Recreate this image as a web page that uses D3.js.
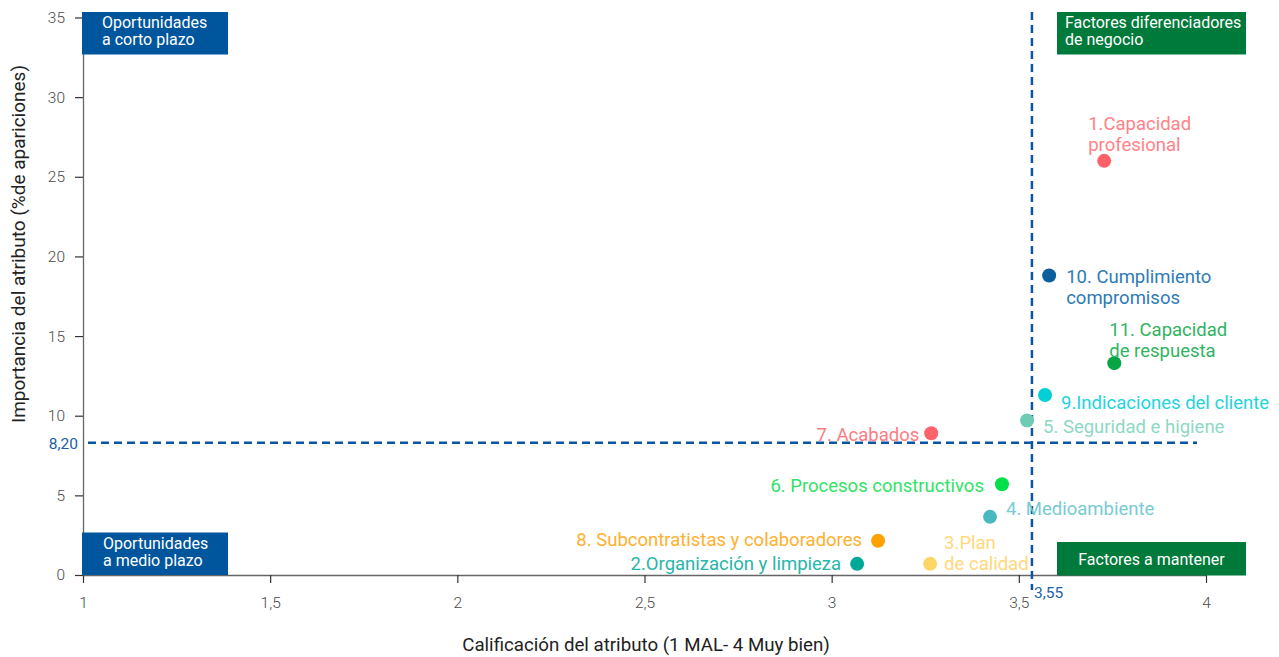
<!DOCTYPE html>
<html><head><meta charset="utf-8">
<script src="https://cdn.jsdelivr.net/npm/d3@7"></script>
<style>body{margin:0;background:#fff;font-family:Roboto,sans-serif}</style>
</head><body><svg id="c" width="1279" height="657"></svg>
<script>
const names = ["1.Capacidad profesional","10. Cumplimiento compromisos","11. Capacidad de respuesta","9.Indicaciones del cliente","5. Seguridad e higiene","7. Acabados","6. Procesos constructivos","4. Medioambiente","8. Subcontratistas y colaboradores","2.Organización y limpieza","3.Plan de calidad"];
const labelLines = [["1.Capacidad","profesional"],["10. Cumplimiento","compromisos"],["11. Capacidad","de respuesta"],["9.Indicaciones del cliente"],["5. Seguridad e higiene"],["7. Acabados"],["6. Procesos constructivos"],["4. Medioambiente"],["8. Subcontratistas y colaboradores"],["2.Organización y limpieza"],["3.Plan","de calidad"]];
const xValues = [3.728, 3.581, 3.755, 3.570, 3.522, 3.266, 3.455, 3.423, 3.124, 3.068, 3.263];
const yValues = [26.0, 18.8, 13.3, 11.3, 9.7, 8.9, 5.7, 3.65, 2.15, 0.7, 0.7];
const dotColors = ["#fe6168","#0b5f9c","#08a545","#00cfd6","#6ecbb5","#fe636b","#00e04b","#4ab8c1","#ffa200","#00a898","#ffd566"];
const labelColors = ["#ff8288","#2e7bb5","#2fb462","#22d4dc","#8dd8c5","#ff7b82","#2fe366","#78cbd2","#ffb02e","#27b6a9","#ffd87a"];
const xTicks = [1, 1.5, 2, 2.5, 3, 3.5, 4];
const yTicks = [0, 5, 10, 15, 20, 25, 30, 35];
const refX = 3.535, refXLabel = "3,55";
const refY = 8.3, refYLabel = "8,20";
const quadrants = [["Oportunidades","a corto plazo"],["Factores diferenciadores","de negocio"],["Oportunidades","a medio plazo"],["Factores a mantener"]];

const svg = d3.select("#c");
const x = d3.scaleLinear().domain([1,4]).range([83,1206]);
const y = d3.scaleLinear().domain([0,35]).range([575,17.5]);
const fmt = d => String(d).replace(".", ",");

// axes
const xa = svg.append("g").attr("transform","translate(0,575)")
  .call(d3.axisBottom(x).tickValues(xTicks).tickFormat(fmt).tickSize(8).tickSizeOuter(0));
const ya = svg.append("g").attr("transform","translate(83,0)")
  .call(d3.axisLeft(y).tickValues(yTicks).tickSize(8).tickSizeOuter(0));
[xa,ya].forEach(a=>{
  a.select(".domain").attr("stroke","#666").attr("stroke-width",1.3);
  a.selectAll(".tick line").attr("stroke","#333").attr("stroke-width",1.2);
  a.selectAll("text").attr("fill","#4a4a4a").style("font-family","Roboto").style("font-size","15.5px").style("font-weight",300);
});
xa.selectAll("text").attr("dy","1.45em");
ya.selectAll("text").attr("dx","-0.45em");

// axis titles
svg.append("text").attr("x",646).attr("y",651).attr("text-anchor","middle")
  .style("font-size","18.7px").attr("fill","#222").text("Calificación del atributo (1 MAL- 4 Muy bien)");
svg.append("text").attr("transform","translate(25,244) rotate(-90)").attr("text-anchor","middle")
  .style("font-size","19px").attr("fill","#222").text("Importancia del atributo (%de apariciones)");

// reference lines
svg.append("line").attr("x1",x(1)+5).attr("x2",x(4)-9).attr("y1",y(refY)).attr("y2",y(refY))
  .attr("stroke","#0a55a2").attr("stroke-width",2.5).attr("stroke-dasharray","8,5");
svg.append("line").attr("x1",x(refX)).attr("x2",x(refX)).attr("y1",12).attr("y2",590)
  .attr("stroke","#0a55a2").attr("stroke-width",2.5).attr("stroke-dasharray","8,5");
svg.append("text").attr("x",x(1)-5).attr("y",y(refY)+6).attr("text-anchor","end")
  .attr("fill","#1a5fa8").style("font-size","15.5px").text(refYLabel);
svg.append("text").attr("x",x(refX)+2).attr("y",598)
  .attr("fill","#1a5fa8").style("font-size","15.5px").text(refXLabel);

// quadrant boxes
const boxes = [
  {x0:82, x1:228, y0:12, y1:54.5, fill:"#00569d", tx:102, anchor:"start"},
  {x0:1057, x1:1246, y0:12, y1:54.5, fill:"#007a3a", tx:1065, anchor:"start"},
  {x0:82, x1:228, y0:532.5, y1:575, fill:"#00569d", tx:103, anchor:"start"},
  {x0:1057, x1:1246, y0:542, y1:575.5, fill:"#007a3a", tx:1151.5, anchor:"middle"}
];
boxes.forEach((b,i)=>{
  svg.append("rect").attr("x",b.x0).attr("y",b.y0).attr("width",b.x1-b.x0).attr("height",b.y1-b.y0).attr("fill",b.fill);
  const lines = quadrants[i];
  const t = svg.append("text").attr("fill","#fff").style("font-size","16px").attr("text-anchor",b.anchor);
  if(lines.length===2){
    t.append("tspan").attr("x",b.tx).attr("y",b.y0+16).text(lines[0]);
    t.append("tspan").attr("x",b.tx).attr("y",b.y0+33).text(lines[1]);
  } else {
    t.append("tspan").attr("x",b.tx).attr("y",(b.y0+b.y1)/2+6).text(lines[0]);
  }
});

// label placement offsets relative to point (dx, dy of first line center, anchor)
const lp = [
  {dx:-16, dy:-37, a:"start"},
  {dx:17, dy:1, a:"start"},
  {dx:-5, dy:-33, a:"start"},
  {dx:16, dy:8, a:"start"},
  {dx:16, dy:7, a:"start"},
  {dx:-12, dy:2, a:"end"},
  {dx:-18, dy:2, a:"end"},
  {dx:16, dy:-8, a:"start"},
  {dx:-16, dy:-1, a:"end"},
  {dx:-16, dy:0, a:"end"},
  {dx:14, dy:-21, a:"start"}
];
const g = svg.append("g");
names.forEach((n,i)=>{
  g.append("circle").attr("cx",x(xValues[i])).attr("cy",y(yValues[i])).attr("r",7).attr("fill",dotColors[i]);
  const t = g.append("text").attr("fill",labelColors[i]).style("font-size","18.5px").style("font-weight",400).attr("text-anchor",lp[i].a);
  labelLines[i].forEach((l,j)=>{
    t.append("tspan").attr("x",x(xValues[i])+lp[i].dx).attr("y",y(yValues[i])+lp[i].dy+6+j*21).text(l);
  });
});
</script></body></html>
